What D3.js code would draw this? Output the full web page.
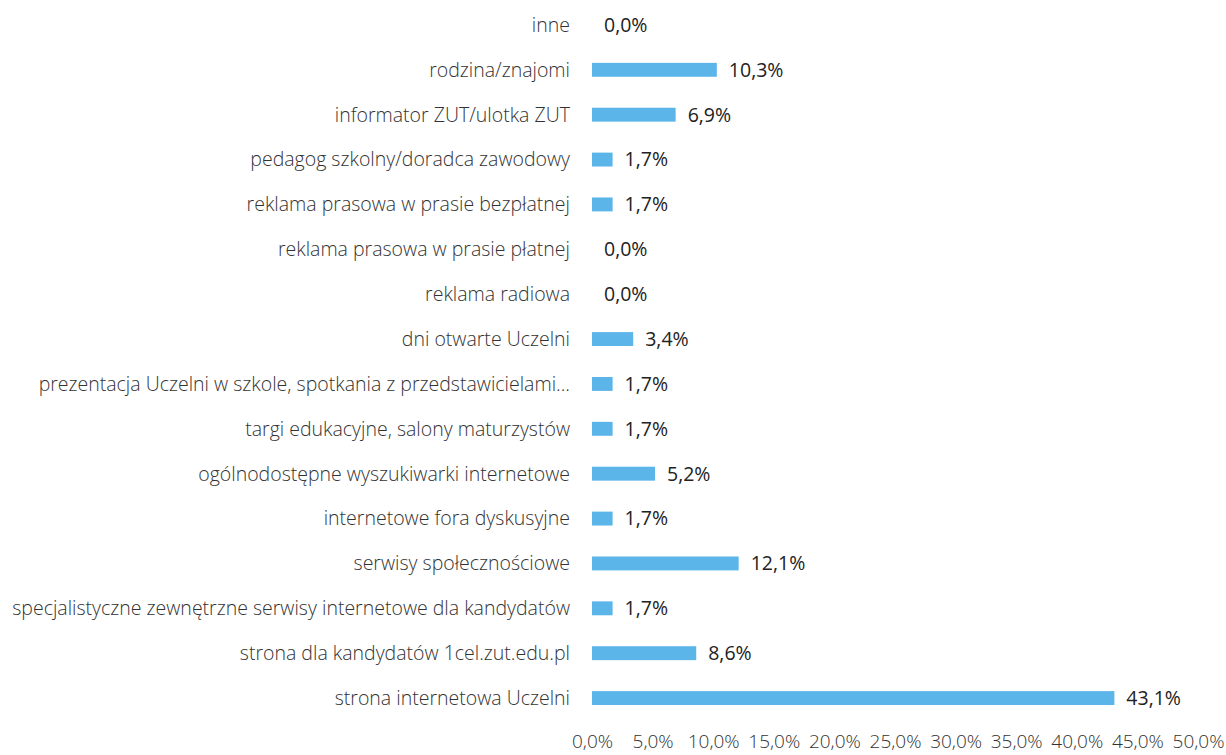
<!DOCTYPE html>
<html><head><meta charset="utf-8">
<script src="https://cdn.jsdelivr.net/npm/d3@7"></script>
<style>body{margin:0;background:#fff;} text{font-family:"Open Sans", sans-serif;}</style>
</head><body><svg id="c" width="1226" height="755"></svg>
<script>
const categories = ["inne","rodzina/znajomi","informator ZUT/ulotka ZUT","pedagog szkolny/doradca zawodowy","reklama prasowa w prasie bezpłatnej","reklama prasowa w prasie płatnej","reklama radiowa","dni otwarte Uczelni","prezentacja Uczelni w szkole, spotkania z przedstawicielami...","targi edukacyjne, salony maturzystów","ogólnodostępne wyszukiwarki internetowe","internetowe fora dyskusyjne","serwisy społecznościowe","specjalistyczne zewnętrzne serwisy internetowe dla kandydatów","strona dla kandydatów 1cel.zut.edu.pl","strona internetowa Uczelni"];
const values = [0.0,10.3,6.9,1.7,1.7,0.0,0.0,3.4,1.7,1.7,5.2,1.7,12.1,1.7,8.6,43.1];
const ticks = [0,5,10,15,20,25,30,35,40,45,50];
const fmt = v => v.toFixed(1).replace(".", ",") + "%";

const svg = d3.select("#c");
const x = d3.scaleLinear().domain([0,50]).range([592,1198]);
const y = d3.scaleBand().domain(categories).range([2.5,720.5]).paddingInner(0.69).paddingOuter(0.345);

svg.selectAll("rect.bar").data(categories).join("rect").attr("class","bar")
  .attr("x", x(0)).attr("y", d=>y(d)).attr("height", y.bandwidth())
  .attr("width", (d,i)=>x(values[i])-x(0)).attr("fill","#5bb5e9");

svg.selectAll("text.cat").data(categories).join("text").attr("class","cat")
  .attr("x",570).attr("y",d=>y(d)+y.bandwidth()/2).attr("dy","0.35em")
  .attr("text-anchor","end").attr("font-size",19.5).attr("font-weight",300).attr("fill","#333")
  .text(d=>d);

svg.selectAll("text.val").data(categories).join("text").attr("class","val")
  .attr("x",(d,i)=>x(values[i])+12).attr("y",d=>y(d)+y.bandwidth()/2).attr("dy","0.35em")
  .attr("font-size",19.5).attr("fill","#222")
  .text((d,i)=>fmt(values[i]));

const ax = d3.axisBottom(x).tickValues(ticks).tickFormat(fmt).tickSize(0).tickPadding(0);
const g = svg.append("g").attr("transform","translate(0,741)").call(ax);
g.select(".domain").remove();
g.selectAll("text").attr("dy","0.35em").attr("font-size",19).attr("font-weight",300).attr("fill","#333").attr("font-family","'Open Sans', sans-serif");
</script></body></html>
